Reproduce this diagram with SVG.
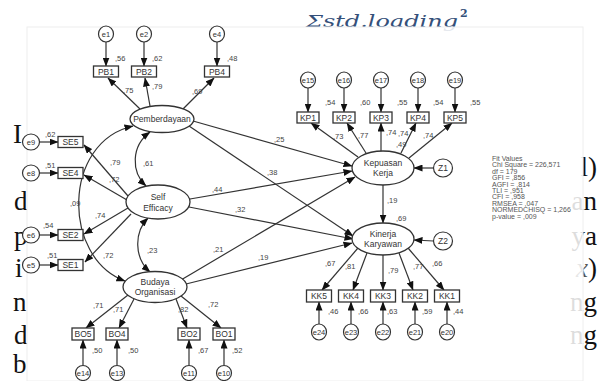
<svg xmlns="http://www.w3.org/2000/svg" width="607" height="381" viewBox="0 0 607 381">
<defs>
<marker id="ah" markerWidth="9" markerHeight="7" refX="8.5" refY="3.5" orient="auto" markerUnits="userSpaceOnUse"><path d="M0,0 L9,3.5 L0,7 z" fill="#111"/></marker>
<marker id="ah2" markerWidth="9" markerHeight="7" refX="8.5" refY="3.5" orient="auto-start-reverse" markerUnits="userSpaceOnUse"><path d="M0,0 L9,3.5 L0,7 z" fill="#111"/></marker>
<style>
.doc{font-family:"Liberation Serif","Times New Roman",serif;font-size:27px;fill:#111}
.t{font-family:"Liberation Sans",Arial,sans-serif;fill:#333}
.nm{font-size:8.5px;text-anchor:middle}
.ev{font-size:7.5px;text-anchor:middle}
.lb{font-family:"Liberation Sans",Arial,sans-serif;font-size:7.5px;fill:#444}
.fit{font-family:"Liberation Sans",Arial,sans-serif;font-size:7px;fill:#555}
rect.o{fill:#fff;stroke:#333;stroke-width:1.3}
ellipse.l{fill:#fff;stroke:#333;stroke-width:1.3}
ellipse.e{fill:#fff;stroke:#333;stroke-width:1.2}
#conn line,#conn path{stroke:#333;stroke-width:1.2;fill:none}
</style>
</defs>
<rect width="607" height="381" fill="#fff"/>
<!-- background document fragments -->
<g id="doc">
<text class="doc" x="13" y="143">I</text>
<text class="doc" x="14" y="210">d</text>
<text class="doc" x="14" y="245">p</text>
<text class="doc" x="15" y="277">i</text>
<text class="doc" x="13" y="311">n</text>
<text class="doc" x="14" y="344">d</text>
<text class="doc" x="13" y="373">b</text>
<text class="doc" x="597" y="176" text-anchor="end">l)</text>
<text class="doc" x="597" y="210" text-anchor="end">an</text>
<text class="doc" x="597" y="245" text-anchor="end">ya</text>
<text class="doc" x="597" y="277" text-anchor="end"><tspan font-style="italic" fill="#555">x</tspan>)</text>
<text class="doc" x="597" y="311" text-anchor="end">ng</text>
<text class="doc" x="597" y="344" text-anchor="end">ng</text>
</g>
<g id="formula">
<text x="306" y="27" font-family="DejaVu Serif,serif" font-style="italic" font-size="17" fill="#34507a" textLength="152" lengthAdjust="spacingAndGlyphs">Σstd.loading</text>
<text x="460" y="17" font-family="DejaVu Serif,serif" font-weight="bold" font-size="11" fill="#34507a">2</text>
</g>
<rect id="panel" x="27" y="27" width="556" height="354" fill="#fff" fill-opacity="0.86" stroke="#eeeeee" stroke-width="1"/>

<g id="conn">
<line x1="106" y1="42" x2="106" y2="66" marker-end="url(#ah)"/>
<line x1="144" y1="42" x2="144" y2="66" marker-end="url(#ah)"/>
<line x1="217" y1="42" x2="217" y2="66" marker-end="url(#ah)"/>
<line x1="140" y1="109" x2="108" y2="78" marker-end="url(#ah)"/>
<line x1="150" y1="106" x2="145" y2="78" marker-end="url(#ah)"/>
<line x1="183" y1="109" x2="214" y2="78" marker-end="url(#ah)"/>
<line x1="40" y1="142" x2="58" y2="142" marker-end="url(#ah)"/>
<line x1="40" y1="173" x2="58" y2="173" marker-end="url(#ah)"/>
<line x1="40" y1="235" x2="58" y2="235" marker-end="url(#ah)"/>
<line x1="40" y1="265" x2="58" y2="265" marker-end="url(#ah)"/>
<line x1="128" y1="196" x2="84" y2="145" marker-end="url(#ah)"/>
<line x1="127" y1="200" x2="84" y2="175" marker-end="url(#ah)"/>
<line x1="128" y1="208" x2="84" y2="234" marker-end="url(#ah)"/>
<line x1="131" y1="214" x2="85" y2="262" marker-end="url(#ah)"/>
<path d="M133,126 C62,142 62,258 125,281" marker-start="url(#ah2)" marker-end="url(#ah2)"/>
<path d="M150,132 C131,146 131,172 146,186" marker-start="url(#ah2)" marker-end="url(#ah2)"/>
<path d="M148,218 C134,232 134,258 150,272" marker-start="url(#ah2)" marker-end="url(#ah2)"/>
<line x1="128" y1="295" x2="86" y2="328" marker-end="url(#ah)"/>
<line x1="134" y1="299" x2="119" y2="328" marker-end="url(#ah)"/>
<line x1="176" y1="299" x2="187" y2="328" marker-end="url(#ah)"/>
<line x1="181" y1="296" x2="221" y2="328" marker-end="url(#ah)"/>
<line x1="83" y1="365" x2="83" y2="340" marker-end="url(#ah)"/>
<line x1="117" y1="365" x2="117" y2="340" marker-end="url(#ah)"/>
<line x1="189" y1="365" x2="189" y2="340" marker-end="url(#ah)"/>
<line x1="224" y1="365" x2="224" y2="340" marker-end="url(#ah)"/>
<line x1="193" y1="121" x2="352" y2="166" marker-end="url(#ah)"/>
<line x1="189" y1="126" x2="353" y2="236" marker-end="url(#ah)"/>
<line x1="190" y1="199" x2="352" y2="171" marker-end="url(#ah)"/>
<line x1="189" y1="207" x2="353" y2="239" marker-end="url(#ah)"/>
<line x1="181" y1="280" x2="355" y2="177" marker-end="url(#ah)"/>
<line x1="186" y1="284" x2="352" y2="243" marker-end="url(#ah)"/>
<line x1="358" y1="157" x2="311" y2="123" marker-end="url(#ah)"/>
<line x1="366" y1="153" x2="347" y2="123" marker-end="url(#ah)"/>
<line x1="381" y1="151" x2="381" y2="123" marker-end="url(#ah)"/>
<line x1="401" y1="153" x2="416" y2="123" marker-end="url(#ah)"/>
<line x1="409" y1="158" x2="452" y2="123" marker-end="url(#ah)"/>
<line x1="308" y1="88" x2="308" y2="112" marker-end="url(#ah)"/>
<line x1="344" y1="88" x2="344" y2="112" marker-end="url(#ah)"/>
<line x1="381" y1="88" x2="381" y2="112" marker-end="url(#ah)"/>
<line x1="418" y1="88" x2="418" y2="112" marker-end="url(#ah)"/>
<line x1="455" y1="88" x2="455" y2="112" marker-end="url(#ah)"/>
<line x1="433.5" y1="168" x2="414" y2="168" marker-end="url(#ah)"/>
<line x1="433.5" y1="241" x2="414" y2="240" marker-end="url(#ah)"/>
<line x1="383" y1="185" x2="383" y2="223" marker-end="url(#ah)"/>
<line x1="358" y1="248" x2="322" y2="290" marker-end="url(#ah)"/>
<line x1="367" y1="253" x2="353" y2="290" marker-end="url(#ah)"/>
<line x1="383" y1="255" x2="383" y2="290" marker-end="url(#ah)"/>
<line x1="399" y1="253" x2="413" y2="290" marker-end="url(#ah)"/>
<line x1="408" y1="248" x2="444" y2="290" marker-end="url(#ah)"/>
<line x1="319" y1="324" x2="319" y2="302" marker-end="url(#ah)"/>
<line x1="351" y1="324" x2="351" y2="302" marker-end="url(#ah)"/>
<line x1="383" y1="324" x2="383" y2="302" marker-end="url(#ah)"/>
<line x1="415" y1="324" x2="415" y2="302" marker-end="url(#ah)"/>
<line x1="447" y1="324" x2="447" y2="302" marker-end="url(#ah)"/>
</g>

<g id="Pemberdayaan"><ellipse class="l" cx="162" cy="119" rx="32" ry="13.5"/><text class="t nm" x="162" y="122">Pemberdayaan</text></g>
<g id="SelfEfficacy"><ellipse class="l" cx="158" cy="202" rx="32" ry="17"/><text class="t nm" x="158" y="200">Self</text><text class="t nm" x="158" y="211">Efficacy</text></g>
<g id="BudayaOrganisasi"><ellipse class="l" cx="155" cy="287" rx="32" ry="15.5"/><text class="t nm" x="155" y="285">Budaya</text><text class="t nm" x="155" y="295">Organisasi</text></g>
<g id="KepuasanKerja"><ellipse class="l" cx="383" cy="168" rx="31" ry="17"/><text class="t nm" x="383" y="166">Kepuasan</text><text class="t nm" x="383" y="176">Kerja</text></g>
<g id="KinerjaKaryawan"><ellipse class="l" cx="383" cy="239" rx="31" ry="16"/><text class="t nm" x="383" y="237">Kinerja</text><text class="t nm" x="383" y="247">Karyawan</text></g>
<g id="Z1"><ellipse class="e" cx="443" cy="168" rx="9.5" ry="9"/><text class="t nm" x="443" y="171">Z1</text></g>
<g id="Z2"><ellipse class="e" cx="443" cy="241" rx="9.5" ry="9"/><text class="t nm" x="443" y="244">Z2</text></g>

<g id="PB1"><rect class="o" x="93.5" y="66" width="25" height="11"/><text class="t nm" x="106" y="74.5">PB1</text></g>
<g id="PB2"><rect class="o" x="131.5" y="66" width="25" height="11"/><text class="t nm" x="144" y="74.5">PB2</text></g>
<g id="PB4"><rect class="o" x="204.5" y="66" width="25" height="11"/><text class="t nm" x="217" y="74.5">PB4</text></g>
<g id="SE5"><rect class="o" x="58" y="136.5" width="25" height="11"/><text class="t nm" x="70.5" y="145">SE5</text></g>
<g id="SE4"><rect class="o" x="58" y="167.5" width="25" height="11"/><text class="t nm" x="70.5" y="176">SE4</text></g>
<g id="SE2"><rect class="o" x="58" y="229.5" width="25" height="11"/><text class="t nm" x="70.5" y="238">SE2</text></g>
<g id="SE1"><rect class="o" x="58" y="259.5" width="25" height="11"/><text class="t nm" x="70.5" y="268">SE1</text></g>
<g id="BO5"><rect class="o" x="72" y="328" width="22" height="12"/><text class="t nm" x="83" y="337">BO5</text></g>
<g id="BO4"><rect class="o" x="106" y="328" width="22" height="12"/><text class="t nm" x="117" y="337">BO4</text></g>
<g id="BO2"><rect class="o" x="178" y="328" width="22" height="12"/><text class="t nm" x="189" y="337">BO2</text></g>
<g id="BO1"><rect class="o" x="213" y="328" width="22" height="12"/><text class="t nm" x="224" y="337">BO1</text></g>
<g id="KP1"><rect class="o" x="297" y="112" width="22" height="11"/><text class="t nm" x="308" y="120.5">KP1</text></g>
<g id="KP2"><rect class="o" x="333" y="112" width="22" height="11"/><text class="t nm" x="344" y="120.5">KP2</text></g>
<g id="KP3"><rect class="o" x="370" y="112" width="22" height="11"/><text class="t nm" x="381" y="120.5">KP3</text></g>
<g id="KP4"><rect class="o" x="407" y="112" width="22" height="11"/><text class="t nm" x="418" y="120.5">KP4</text></g>
<g id="KP5"><rect class="o" x="444" y="112" width="22" height="11"/><text class="t nm" x="455" y="120.5">KP5</text></g>
<g id="KK5"><rect class="o" x="306.5" y="290" width="25" height="12"/><text class="t nm" x="319" y="299">KK5</text></g>
<g id="KK4"><rect class="o" x="338.5" y="290" width="25" height="12"/><text class="t nm" x="351" y="299">KK4</text></g>
<g id="KK3"><rect class="o" x="370.5" y="290" width="25" height="12"/><text class="t nm" x="383" y="299">KK3</text></g>
<g id="KK2"><rect class="o" x="402.5" y="290" width="25" height="12"/><text class="t nm" x="415" y="299">KK2</text></g>
<g id="KK1"><rect class="o" x="434.5" y="290" width="25" height="12"/><text class="t nm" x="447" y="299">KK1</text></g>

<g id="e1"><ellipse class="e" cx="106" cy="34" rx="7.5" ry="8"/><text class="t ev" x="106" y="36.5">e1</text></g>
<g id="e2"><ellipse class="e" cx="144" cy="34" rx="7.5" ry="8"/><text class="t ev" x="144" y="36.5">e2</text></g>
<g id="e4"><ellipse class="e" cx="217" cy="34" rx="7.5" ry="8"/><text class="t ev" x="217" y="36.5">e4</text></g>
<g id="e9"><ellipse class="e" cx="31" cy="142" rx="8.5" ry="8"/><text class="t ev" x="31" y="144.5">e9</text></g>
<g id="e8"><ellipse class="e" cx="31" cy="173" rx="8.5" ry="8"/><text class="t ev" x="31" y="175.5">e8</text></g>
<g id="e6"><ellipse class="e" cx="31" cy="235" rx="8.5" ry="8"/><text class="t ev" x="31" y="237.5">e6</text></g>
<g id="e5"><ellipse class="e" cx="31" cy="265" rx="8.5" ry="8"/><text class="t ev" x="31" y="267.5">e5</text></g>
<g id="e14"><ellipse class="e" cx="83" cy="373" rx="7.5" ry="7.5"/><text class="t ev" x="83" y="375.5">e14</text></g>
<g id="e13"><ellipse class="e" cx="117" cy="373" rx="7.5" ry="7.5"/><text class="t ev" x="117" y="375.5">e13</text></g>
<g id="e11"><ellipse class="e" cx="189" cy="373" rx="7.5" ry="7.5"/><text class="t ev" x="189" y="375.5">e11</text></g>
<g id="e10"><ellipse class="e" cx="224" cy="373" rx="7.5" ry="7.5"/><text class="t ev" x="224" y="375.5">e10</text></g>
<g id="e15"><ellipse class="e" cx="308" cy="80" rx="7.5" ry="8"/><text class="t ev" x="308" y="82.5">e15</text></g>
<g id="e16"><ellipse class="e" cx="344" cy="80" rx="7.5" ry="8"/><text class="t ev" x="344" y="82.5">e16</text></g>
<g id="e17"><ellipse class="e" cx="381" cy="80" rx="7.5" ry="8"/><text class="t ev" x="381" y="82.5">e17</text></g>
<g id="e18"><ellipse class="e" cx="418" cy="80" rx="7.5" ry="8"/><text class="t ev" x="418" y="82.5">e18</text></g>
<g id="e19"><ellipse class="e" cx="455" cy="80" rx="7.5" ry="8"/><text class="t ev" x="455" y="82.5">e19</text></g>
<g id="e24"><ellipse class="e" cx="319" cy="332" rx="7.5" ry="8"/><text class="t ev" x="319" y="334.5">e24</text></g>
<g id="e23"><ellipse class="e" cx="351" cy="332" rx="7.5" ry="8"/><text class="t ev" x="351" y="334.5">e23</text></g>
<g id="e22"><ellipse class="e" cx="383" cy="332" rx="7.5" ry="8"/><text class="t ev" x="383" y="334.5">e22</text></g>
<g id="e21"><ellipse class="e" cx="415" cy="332" rx="7.5" ry="8"/><text class="t ev" x="415" y="334.5">e21</text></g>
<g id="e20"><ellipse class="e" cx="447" cy="332" rx="7.5" ry="8"/><text class="t ev" x="447" y="334.5">e20</text></g>

<g id="labels" class="lb">
<text x="115" y="61">,56</text><text x="152" y="61">,62</text><text x="227" y="61">,48</text>
<text x="123" y="93">,75</text><text x="152" y="89">,79</text><text x="192" y="94">,69</text>
<text x="45" y="137">,62</text><text x="45" y="168">,51</text><text x="43" y="228">,54</text><text x="47" y="258">,51</text>
<text x="110" y="165">,79</text><text x="109" y="182">,72</text><text x="95" y="218">,74</text><text x="103" y="258">,72</text>
<text x="70" y="206">,09</text><text x="143" y="166">,61</text><text x="147" y="253">,23</text>
<text x="93" y="308">,71</text><text x="113" y="312">,71</text><text x="178" y="312">,82</text><text x="208" y="307">,72</text>
<text x="92" y="353">,50</text><text x="128" y="353">,50</text><text x="198" y="353">,67</text><text x="232" y="353">,52</text>
<text x="274" y="142">,25</text><text x="267" y="175">,38</text><text x="212" y="192">,44</text><text x="235" y="212">,32</text>
<text x="213" y="252">,21</text><text x="258" y="260">,19</text>
<text x="325" y="105">,54</text><text x="360" y="105">,60</text><text x="397" y="105">,55</text><text x="433" y="105">,54</text><text x="470" y="105">,55</text>
<text x="333" y="139">,73</text><text x="358" y="138">,77</text><text x="386" y="135">,74</text><text x="398" y="136">,74</text><text x="396" y="147">,49</text><text x="423" y="138">,74</text>
<text x="387" y="203">,19</text><text x="396" y="221">,69</text>
<text x="325" y="266">,67</text><text x="345" y="269">,81</text><text x="388" y="273">,79</text><text x="413" y="269">,77</text><text x="432" y="266">,66</text>
<text x="328" y="314">,46</text><text x="358" y="314">,66</text><text x="387" y="314">,63</text><text x="422" y="314">,59</text><text x="453" y="314">,44</text>
</g>

<g id="fit" class="fit">
<text x="492" y="161">Fit Values</text>
<text x="492" y="167.4">Chi Square = 226,571</text>
<text x="492" y="173.8">df = 179</text>
<text x="492" y="180.2">GFI = ,856</text>
<text x="492" y="186.6">AGFI = ,814</text>
<text x="492" y="193">TLI = ,951</text>
<text x="492" y="199.4">CFI = ,958</text>
<text x="492" y="205.8">RMSEA = ,047</text>
<text x="492" y="212.2">NORMEDCHISQ = 1,266</text>
<text x="492" y="218.6">p-value = ,009</text>
</g>
</svg>
